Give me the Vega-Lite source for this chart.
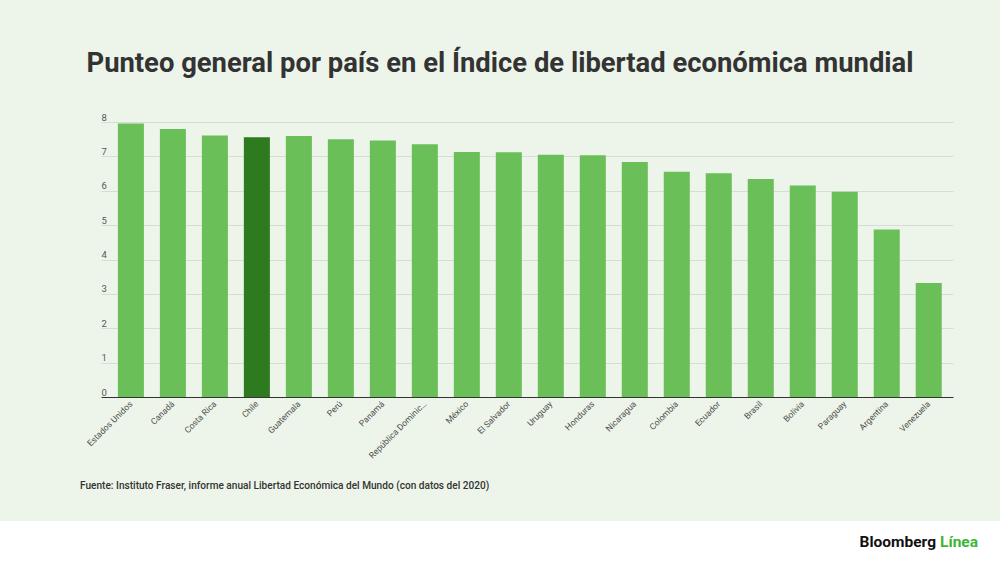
{
  "$schema": "https://vega.github.io/schema/vega-lite/v6.json",
  "width": 852,
  "height": 275,
  "autosize": "none",
  "padding": {"left": 101, "top": 122, "right": 47, "bottom": 165},
  "background": "#edf5ea",
  "config": {
    "font": "Roboto",
    "view": {"stroke": null}
  },
  "title": {
    "text": "Punteo general por país en el Índice de libertad económica mundial",
    "font": "Roboto",
    "fontSize": 27.4,
    "fontWeight": "bold",
    "color": "#333333",
    "anchor": "middle",
    "frame": "group",
    "dx": -27,
    "baseline": "alphabetic",
    "offset": 13
  },
  "layer": [
    {
      "data": {"values": [{}]},
      "mark": {"type": "rect", "fill": "#ffffff", "clip": false},
      "encoding": {
        "x": {"value": -101},
        "x2": {"value": 899},
        "y": {"value": 399},
        "y2": {"value": 440}
      }
    },
    {
      "data": {
        "values": [
          {"pais": "Estados Unidos", "puntaje": 7.96, "grupo": "Otros"},
          {"pais": "Canadá", "puntaje": 7.80, "grupo": "Otros"},
          {"pais": "Costa Rica", "puntaje": 7.61, "grupo": "Otros"},
          {"pais": "Chile", "puntaje": 7.56, "grupo": "Chile"},
          {"pais": "Guatemala", "puntaje": 7.59, "grupo": "Otros"},
          {"pais": "Perú", "puntaje": 7.50, "grupo": "Otros"},
          {"pais": "Panamá", "puntaje": 7.46, "grupo": "Otros"},
          {"pais": "República Dominicana", "puntaje": 7.35, "grupo": "Otros"},
          {"pais": "México", "puntaje": 7.13, "grupo": "Otros"},
          {"pais": "El Salvador", "puntaje": 7.12, "grupo": "Otros"},
          {"pais": "Uruguay", "puntaje": 7.05, "grupo": "Otros"},
          {"pais": "Honduras", "puntaje": 7.03, "grupo": "Otros"},
          {"pais": "Nicaragua", "puntaje": 6.84, "grupo": "Otros"},
          {"pais": "Colombia", "puntaje": 6.55, "grupo": "Otros"},
          {"pais": "Ecuador", "puntaje": 6.51, "grupo": "Otros"},
          {"pais": "Brasil", "puntaje": 6.34, "grupo": "Otros"},
          {"pais": "Bolivia", "puntaje": 6.15, "grupo": "Otros"},
          {"pais": "Paraguay", "puntaje": 5.97, "grupo": "Otros"},
          {"pais": "Argentina", "puntaje": 4.87, "grupo": "Otros"},
          {"pais": "Venezuela", "puntaje": 3.32, "grupo": "Otros"}
        ]
      },
      "mark": {"type": "bar"},
      "encoding": {
        "x": {
          "field": "pais",
          "type": "nominal",
          "sort": null,
          "scale": {"paddingInner": 0.38, "paddingOuter": 0.335, "align": 0.6},
          "axis": {
            "title": null,
            "labelAngle": -45,
            "labelAlign": "right",
            "labelBaseline": "middle",
            "labelFont": "Roboto",
            "labelFontSize": 8.6,
            "labelColor": "#4d4d4d",
            "labelPadding": 5,
            "labelLimit": 78,
            "ticks": false,
            "domainColor": "#333333",
            "domainWidth": 1,
            "grid": false
          }
        },
        "y": {
          "field": "puntaje",
          "type": "quantitative",
          "scale": {"domain": [0, 8], "nice": false},
          "axis": {
            "title": null,
            "values": [0, 1, 2, 3, 4, 5, 6, 7, 8],
            "domain": false,
            "ticks": false,
            "labelAlign": "left",
            "labelBaseline": "alphabetic",
            "labelOffset": -2,
            "labelPadding": 0,
            "labelFont": "Roboto",
            "labelFontSize": 9.5,
            "labelColor": "#555555",
            "gridColor": "#d6ddd3",
            "gridWidth": 1
          }
        },
        "color": {
          "field": "grupo",
          "type": "nominal",
          "scale": {"domain": ["Otros", "Chile"], "range": ["#6abf59", "#2e7a1f"]},
          "legend": null
        }
      }
    },
    {
      "data": {"values": [{"texto": "Fuente: Instituto Fraser, informe anual Libertad Económica del Mundo (con datos del 2020)"}]},
      "mark": {"type": "text", "align": "left", "baseline": "alphabetic", "font": "Roboto", "fontSize": 10.1, "fontWeight": 500, "color": "#333333", "clip": false},
      "encoding": {
        "text": {"field": "texto"},
        "x": {"value": -21},
        "y": {"value": 367}
      }
    },
    {
      "data": {"values": [{"texto": "Bloomberg"}]},
      "mark": {"type": "text", "align": "right", "baseline": "alphabetic", "font": "Roboto", "fontSize": 15.5, "fontWeight": "bold", "color": "#111111", "clip": false},
      "encoding": {
        "text": {"field": "texto"},
        "x": {"value": 835},
        "y": {"value": 425}
      }
    },
    {
      "data": {"values": [{"texto": "Línea"}]},
      "mark": {"type": "text", "align": "right", "baseline": "alphabetic", "font": "Roboto", "fontSize": 15.5, "fontWeight": "bold", "color": "#3db534", "clip": false},
      "encoding": {
        "text": {"field": "texto"},
        "x": {"value": 877},
        "y": {"value": 425}
      }
    }
  ]
}
